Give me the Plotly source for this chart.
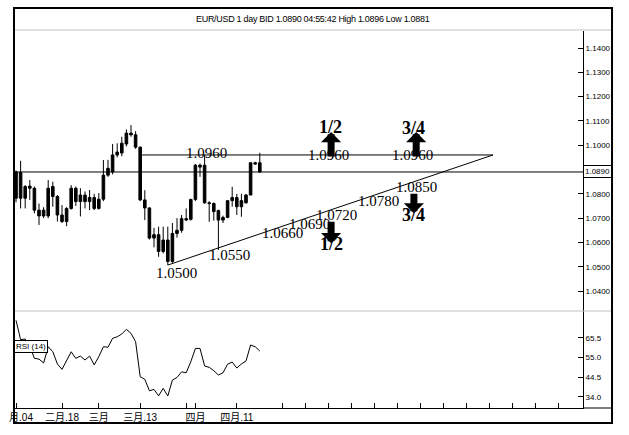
import plotly.graph_objects as go

# ---------------- data ----------------
idx = list(range(54))
opens  = [1.0890,1.0782,1.0830,1.0823,1.0823,1.0733,1.0709,1.0709,1.0830,1.0789,
          1.0713,1.0686,1.0740,1.0823,1.0768,1.0795,1.0768,1.0785,1.0740,1.0778,
          1.0877,1.0890,1.0960,1.0968,1.1005,1.1050,1.1043,1.0992,1.0775,1.0742,
          1.0618,1.0632,1.0563,1.0610,1.0522,1.0637,1.0650,1.0698,1.0695,1.0777,
          1.0918,1.0918,1.0763,1.0760,1.0731,1.0692,1.0703,1.0772,1.0785,1.0747,
          1.0763,1.0795,1.0928,1.0928]
highs  = [1.0896,1.0936,1.0836,1.0857,1.0830,1.0760,1.0745,1.0857,1.0850,1.0795,
          1.0754,1.0745,1.0836,1.0830,1.0823,1.0810,1.0816,1.0800,1.0803,1.0939,
          1.0940,1.1005,1.1008,1.1035,1.1065,1.1083,1.1058,1.0995,1.0815,1.0745,
          1.0660,1.0665,1.0665,1.0665,1.0680,1.0700,1.0713,1.0740,1.0780,1.0923,
          1.0925,1.0960,1.0770,1.0765,1.0735,1.0710,1.0772,1.0829,1.0800,1.0800,
          1.0800,1.0928,1.0932,1.0969]
lows   = [1.0765,1.0740,1.0740,1.0775,1.0720,1.0672,1.0700,1.0700,1.0747,1.0686,
          1.0680,1.0667,1.0735,1.0750,1.0707,1.0740,1.0733,1.0733,1.0735,1.0770,
          1.0870,1.0880,1.0950,1.0955,1.0995,1.1035,1.0985,1.0770,1.0692,1.0612,
          1.0580,1.0541,1.0555,1.0507,1.0515,1.0620,1.0640,1.0688,1.0690,1.0770,
          1.0870,1.0760,1.0685,1.0690,1.0569,1.0680,1.0700,1.0747,1.0713,1.0706,
          1.0760,1.0795,1.0920,1.0887]
closes = [1.0782,1.0888,1.0782,1.0832,1.0733,1.0709,1.0733,1.0823,1.0789,1.0713,
          1.0686,1.0740,1.0823,1.0768,1.0795,1.0768,1.0785,1.0740,1.0778,1.0877,
          1.0905,1.0960,1.0972,1.1008,1.1050,1.1043,1.0992,1.0775,1.0742,1.0618,
          1.0632,1.0563,1.0610,1.0522,1.0637,1.0650,1.0698,1.0693,1.0777,1.0918,
          1.0910,1.0763,1.0760,1.0727,1.0692,1.0703,1.0772,1.0785,1.0747,1.0772,
          1.0795,1.0928,1.0923,1.0890]
rsi = [74.8,64.5,64.8,61.0,54.5,54.1,52.0,60.7,58.0,51.5,
       48.6,53.6,58.0,54.5,55.7,53.6,55.7,51.0,55.4,60.7,
       60.4,65.2,66.0,67.5,70.0,67.8,63.4,44.7,43.3,37.2,
       37.9,34.5,38.5,34.4,42.9,44.3,47.3,46.8,52.7,59.8,
       59.8,50.4,49.7,47.9,45.6,46.8,51.4,52.5,49.3,51.5,
       53.1,61.6,60.7,58.4]

current_bid = 1.0890
title_text = "EUR/USD 1 day BID 1.0890 04:55:42 High 1.0896 Low 1.0881"

x_tickvals = [0, 10, 18, 27, 37, 39, 48, 58, 63, 68, 73, 78, 83, 88, 93, 98, 103, 108, 113, 118]
x_ticktext = ["\u3000月.04", "二月.18", "三月", "三月.13", "", "四月", "四月.11",
              "", "", "", "", "", "", "", "", "", "", "", "", ""]
price_ticks = [1.04, 1.05, 1.06, 1.07, 1.08, 1.10, 1.11, 1.12, 1.13, 1.14]
rsi_ticks = [34.0, 44.5, 55.0, 65.5]

# drawn analysis objects
resist_x = [27, 103.7]
resist_y = [1.0960, 1.0960]
support_x = [33, 103.7]
support_y = [1.0507, 1.0960]

level_text = ["1.0960", "1.0960", "1.0960", "1.0500", "1.0550", "1.0660",
              "1.0690", "1.0720", "1.0780", "1.0850"]
level_x = [41.5, 68.0, 86.2, 34.8, 46.5, 58.0, 63.9, 69.6, 78.9, 87.0]
level_y = [1.0968, 1.0960, 1.0960, 1.0474, 1.0548, 1.0639, 1.0676, 1.0713, 1.0770, 1.0828]

frac_text = ["1/2", "3/4", "1/2", "3/4"]
frac_x = [68.3, 86.5, 68.5, 86.5]
frac_y = [1.1075, 1.1071, 1.0593, 1.0713]

arrow_x = [68.5, 87.0, 68.5, 86.5]
arrow_y = [1.1054, 1.1054, 1.0597, 1.0720]
arrow_tail = [26, 26, -23, -21]

# ---------------- figure ----------------
SANS = "Liberation Sans, Arial, sans-serif"
SERIF = "Liberation Serif, Times New Roman, serif"

fig = go.Figure()
candle_style = dict(line=dict(color="black", width=1), fillcolor="black")
fig.add_trace(go.Candlestick(x=idx, open=opens, high=highs, low=lows, close=closes,
                             increasing=candle_style, decreasing=candle_style,
                             whiskerwidth=0, xaxis="x", yaxis="y",
                             showlegend=False, hoverinfo="skip"))
fig.add_trace(go.Scatter(x=idx, y=rsi, mode="lines", line=dict(color="black", width=1),
                         xaxis="x", yaxis="y2", showlegend=False, hoverinfo="skip"))
fig.add_trace(go.Scatter(x=resist_x, y=resist_y, mode="lines", line=dict(color="black", width=1),
                         xaxis="x", yaxis="y", showlegend=False, hoverinfo="skip"))
fig.add_trace(go.Scatter(x=support_x, y=support_y, mode="lines", line=dict(color="black", width=1),
                         xaxis="x", yaxis="y", showlegend=False, hoverinfo="skip"))

annotations = []
for t, x, y in zip(level_text, level_x, level_y):
    annotations.append(dict(x=x, y=y, xref="x", yref="y", text=t, showarrow=False,
                            font=dict(family=SERIF, size=15, color="black"),
                            xanchor="center", yanchor="middle"))
for x, y, ay in zip(arrow_x, arrow_y, arrow_tail):
    annotations.append(dict(x=x, y=y, xref="x", yref="y", ax=0, ay=ay, text="",
                            showarrow=True, arrowhead=1, arrowsize=0.48, arrowwidth=7,
                            arrowcolor="black"))
for t, x, y in zip(frac_text, frac_x, frac_y):
    annotations.append(dict(x=x, y=y, xref="x", yref="y", text="<b>" + t + "</b>", showarrow=False,
                            font=dict(family=SERIF, size=18, color="black"),
                            xanchor="center", yanchor="middle"))
# title
annotations.append(dict(x=0.5255, y=1.0318, xref="paper", yref="paper",
                        text='<span style="letter-spacing:-0.3px">' + title_text + '</span>',
                        showarrow=False, font=dict(family=SANS, size=9, color="black"),
                        xanchor="center", yanchor="middle"))
# current price box
annotations.append(dict(x=1.0, y=current_bid, xref="paper", yref="y", text="%.4f" % current_bid,
                        showarrow=False, font=dict(family=SANS, size=8, color="black"),
                        xanchor="left", yanchor="middle", bordercolor="black", borderwidth=1,
                        borderpad=1, bgcolor="white"))
# RSI label
annotations.append(dict(x=0.0, y=60.8, xref="paper", yref="y2", text="RSI (14)",
                        showarrow=False, font=dict(family=SANS, size=8, color="black"),
                        xanchor="left", yanchor="middle", bordercolor="black", borderwidth=1,
                        borderpad=1, bgcolor="white"))

shapes = [
    dict(type="line", xref="paper", yref="y", x0=0, x1=1, y0=current_bid, y1=current_bid,
         line=dict(color="black", width=1)),
    dict(type="line", xref="paper", yref="paper", x0=0, x1=1.051, y0=0.2573, y1=0.2573,
         line=dict(color="#c0c0c0", width=1)),
    dict(type="line", xref="paper", yref="paper", x0=0, x1=1.051, y0=1.0027, y1=1.0027,
         line=dict(color="#c0c0c0", width=1)),
    dict(type="line", xref="paper", yref="paper", x0=1, x1=1.051, y0=0, y1=0,
         line=dict(color="black", width=1)),
    dict(type="rect", xref="paper", yref="paper", x0=0, x1=1.051, y0=-0.0398, y1=1.061,
         line=dict(color="black", width=2)),
]

fig.update_layout(
    width=629, height=435,
    margin=dict(l=14, r=46, t=31, b=27, pad=0, autoexpand=False),
    paper_bgcolor="white", plot_bgcolor="white",
    showlegend=False,
    boxgap=0.2,
    xaxis=dict(domain=[0, 1], range=[-0.435, 123.26], anchor="y2", automargin=False,
               showline=True, linecolor="black", linewidth=1,
               ticks="inside", ticklen=5, tickcolor="black", tickwidth=1,
               tickvals=x_tickvals, ticktext=x_ticktext, ticklabeloverflow="allow",
               tickfont=dict(family="Liberation Sans, Noto Sans CJK SC, sans-serif", size=10, color="black"),
               showgrid=False, zeroline=False, rangeslider=dict(visible=False), fixedrange=True),
    yaxis=dict(domain=[0.2573, 1], range=[1.0318, 1.1470], side="right", anchor="x", automargin=False,
               showline=True, linecolor="black", linewidth=1,
               ticks="inside", ticklen=5, tickcolor="black",
               tickvals=price_ticks, ticktext=["%.4f" % v for v in price_ticks],
               tickfont=dict(family=SANS, size=8, color="black"),
               showgrid=False, zeroline=False),
    yaxis2=dict(domain=[0, 0.2573], range=[28.0, 79.76], side="right", anchor="x", automargin=False,
                showline=True, linecolor="black", linewidth=1,
                ticks="inside", ticklen=5, tickcolor="black",
                tickvals=rsi_ticks, ticktext=["%.1f" % v for v in rsi_ticks],
                tickfont=dict(family=SANS, size=8, color="black"),
                showgrid=False, zeroline=False),
    annotations=annotations,
    shapes=shapes,
)

fig.write_html("out.html", config={"displayModeBar": False},
               post_script="document.body.style.margin='0';")
